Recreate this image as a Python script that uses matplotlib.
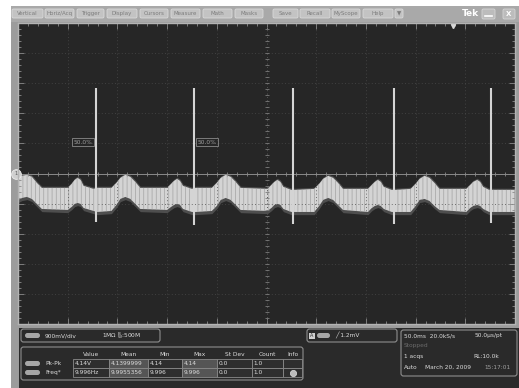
import numpy as np
import matplotlib
matplotlib.use("Agg")
import matplotlib.pyplot as plt
from matplotlib.patches import Rectangle, FancyBboxPatch

# trace envelope (time in ms, volts)
t_ms = [0, 4, 9, 14, 19, 24, 50, 54, 57, 60, 63, 66, 76, 80,
        94, 99, 103, 108, 113, 118, 123, 150, 154, 157, 160, 163, 166, 175, 179,
        195, 200, 204, 209, 214, 219, 224, 251, 255, 258, 261, 264, 267, 275, 279,
        298, 303, 307, 312, 317, 322, 327, 352, 356, 359, 362, 365, 368, 376, 380,
        395, 400, 404, 409, 414, 419, 424, 451, 455, 458, 462, 465, 468, 474, 478, 500]
v_top = [-0.10, -0.07, -0.04, -0.10, -0.28, -0.43, -0.43, -0.31, -0.19, -0.13, -0.19, -0.37, -0.46, -0.43,
         -0.43, -0.28, -0.13, -0.04, -0.10, -0.25, -0.43, -0.43, -0.31, -0.22, -0.16, -0.22, -0.37, -0.46, -0.43,
         -0.43, -0.28, -0.13, -0.04, -0.10, -0.25, -0.43, -0.46, -0.34, -0.25, -0.19, -0.25, -0.40, -0.49, -0.49,
         -0.46, -0.31, -0.16, -0.07, -0.13, -0.28, -0.46, -0.46, -0.34, -0.25, -0.19, -0.25, -0.40, -0.49, -0.49,
         -0.46, -0.31, -0.16, -0.07, -0.13, -0.28, -0.46, -0.46, -0.34, -0.25, -0.19, -0.25, -0.40, -0.49, -0.49, -0.49]
v_bot = [-0.79, -0.73, -0.70, -0.76, -0.91, -1.06, -1.09, -1.00, -0.91, -0.88, -0.91, -1.03, -1.12, -1.15,
         -1.12, -0.94, -0.76, -0.70, -0.76, -0.91, -1.06, -1.09, -1.00, -0.94, -0.91, -0.94, -1.06, -1.15, -1.15,
         -1.12, -0.97, -0.79, -0.73, -0.79, -0.94, -1.09, -1.12, -1.03, -0.94, -0.91, -0.94, -1.06, -1.15, -1.15,
         -1.15, -0.97, -0.79, -0.73, -0.79, -0.94, -1.09, -1.15, -1.03, -0.97, -0.94, -0.97, -1.06, -1.15, -1.15,
         -1.15, -0.97, -0.79, -0.76, -0.82, -0.97, -1.09, -1.15, -1.03, -0.97, -0.94, -0.97, -1.06, -1.15, -1.15, -1.15]

spike_t = [78, 177, 277, 378, 476]
spike_hi = [2.56, 2.56, 2.56, 2.56, 2.56]
spike_lo = [-1.45, -1.54, -1.51, -1.51, -1.48]

ref_t = [65, 190]
ref_v = [0.93, 0.93]

menu_items = ["Vertical", "Horiz/Acq", "Trigger", "Display", "Cursors", "Measure", "Math",
              "Masks", "Save", "Recall", "MyScope", "Help", "\u25bc"]
menu_x = [(12, 43), (45, 74), (77, 104), (107, 137), (140, 168), (171, 200), (203, 232),
          (235, 263), (273, 298), (300, 330), (332, 360), (363, 393), (395, 403)]

meas_cols = ["Value", "Mean", "Min", "Max", "St Dev", "Count", "Info"]
meas_rows = ["Pk-Pk", "Freq*"]
meas_vals = [["4.14V", "4.1399999", "4.14", "4.14", "0.0", "1.0"],
             ["9.996Hz", "9.9955356", "9.996", "9.996", "0.0", "1.0"]]

plt.rcParams["hatch.linewidth"] = 0.5

fig = plt.figure(figsize=(5.19, 3.88), dpi=100)
fig.patch.set_facecolor("white")

bg = fig.add_axes([0, 0, 1, 1])
bg.set_xlim(0, 519)
bg.set_ylim(388, 0)
bg.axis("off")

# window frame, menu bar, bottom panel
bg.add_patch(Rectangle((11, 6), 508, 382, facecolor="#9c9c9c", edgecolor="none"))
bg.add_patch(Rectangle((11, 6), 508, 16, facecolor="#a9a9a9", edgecolor="none"))
bg.add_patch(Rectangle((19, 328), 500, 60, facecolor="#2a2a2a", edgecolor="none"))

for lab, (x0, x1) in zip(menu_items, menu_x):
    bg.add_patch(FancyBboxPatch((x0, 9), x1 - x0, 9, boxstyle="round,pad=0,rounding_size=1.5",
                                facecolor="#c3c3c3", edgecolor="#dadada", lw=0.6))
    bg.text((x0 + x1) / 2, 13.8, lab, fontsize=4, color="#7c7c7c", ha="center", va="center")

bg.text(470, 13.5, "Tek", fontsize=6.5, color="white", fontweight="bold", ha="center", va="center")
bg.add_patch(FancyBboxPatch((482, 9), 13, 10, boxstyle="round,pad=0,rounding_size=1.5",
                            facecolor="#bcbcbc", edgecolor="#d6d6d6", lw=0.6))
bg.plot([485, 492], [16, 16], color="white", lw=1.2)
bg.add_patch(FancyBboxPatch((503, 9), 12, 10, boxstyle="round,pad=0,rounding_size=1.5",
                            facecolor="#bcbcbc", edgecolor="#d6d6d6", lw=0.6))
bg.text(509, 14, "X", fontsize=5, color="white", ha="center", va="center", fontweight="bold")


def box(x0, y0, x1, y1):
    bg.add_patch(FancyBboxPatch((x0, y0), x1 - x0, y1 - y0, boxstyle="round,pad=0,rounding_size=2.5",
                                facecolor="#2a2a2a", edgecolor="#8e8e8e", lw=0.8))


def pill(x, y, w=15):
    bg.add_patch(FancyBboxPatch((x, y - 2.5), w, 5, boxstyle="round,pad=0,rounding_size=2.5",
                                facecolor="#a6a6a6", edgecolor="none"))


txt = dict(fontsize=4.2, color="#dcdcdc", va="center")

# channel box
box(21, 329, 160, 342)
pill(25, 335.5)
bg.text(45, 335.5, "900mV/div", **txt)
bg.text(102, 335.5, "1M\u03a9 $^{\\rm B}_{\\rm W}$:500M", **txt)

# measurement table
box(21, 347, 303, 380)
col_edges = [73, 109, 148, 182, 217, 252, 283, 302]
row_edges = [359, 368, 377]
for i, c in enumerate(meas_cols):
    bg.text((col_edges[i] + col_edges[i + 1]) / 2, 354, c, ha="center", fontsize=4.2, color="#dcdcdc", va="center")
for r, name in enumerate(meas_rows):
    yc = (row_edges[r] + row_edges[r + 1]) / 2
    pill(25, yc)
    bg.text(45, yc, name, **txt)
    for i in range(7):
        fc = "#555555" if i in (1, 3) else "#2e2e2e"
        bg.add_patch(Rectangle((col_edges[i], row_edges[r]), col_edges[i + 1] - col_edges[i],
                               row_edges[r + 1] - row_edges[r], facecolor=fc, edgecolor="#8a8a8a", lw=0.6))
        if i < 6:
            bg.text(col_edges[i] + 1.5, yc, meas_vals[r][i], **txt)
bg.plot([292.5], [372.5], "o", ms=4.5, mfc="#bdbdbd", mec="#e0e0e0", mew=0.5)

# trigger box
box(307, 329, 397, 342)
bg.add_patch(Rectangle((309, 332.5), 6, 6, facecolor="#d0d0d0", edgecolor="none"))
bg.text(312, 335.6, "A", fontsize=3.5, color="#2a2a2a", ha="center", va="center")
pill(317, 335.5, 13)
bg.text(335, 335.5, "\u2571 1.2mV", **txt)

# horizontal / acquisition box
box(401, 330, 517, 376)
bg.text(404, 335.5, "50.0ms  20.0kS/s", **txt)
bg.text(503, 335.5, "50.0\u03bcs/pt", ha="right", **txt)
bg.text(404, 345.5, "Stopped", fontsize=4.2, color="#6a6a6a", va="center")
bg.text(404, 356.5, "1 acqs", **txt)
bg.text(499, 356.5, "RL:10.0k", ha="right", **txt)
bg.text(404, 367.5, "Auto", **txt)
bg.text(425, 367.5, "March 20, 2009", **txt)
bg.text(511, 367.5, "15:17:01", ha="right", fontsize=4.2, color="#a0a0a0", va="center")

# graticule
ax = fig.add_axes([18 / 519, (388 - 324) / 388, 497 / 519, 301 / 388])
ax.set_facecolor("#262626")
ax.set_xlim(0, 500)
ax.set_ylim(-4.5, 4.5)
ax.set_xticks(np.arange(0, 501, 50))
ax.set_yticks(np.arange(-4.5, 4.51, 0.9))
ax.set_xticks(np.arange(0, 501, 10), minor=True)
ax.set_yticks(np.arange(-4.5, 4.51, 0.18), minor=True)
ax.tick_params(which="both", direction="in", top=True, right=True, labelbottom=False, labelleft=False,
               color="#8a8a8a", width=0.6)
ax.tick_params(which="major", length=4)
ax.tick_params(which="minor", length=2)
ax.grid(True, which="major", color="#4a4a4a", lw=0.6, ls=(0, (1, 3)))
for s in ax.spines.values():
    s.set_color("#b4b4b4")
    s.set_linewidth(1.0)
ax.axhline(0, color="#8a8a8a", lw=0.7)
ax.axvline(250, color="#555555", lw=0.6, ls=(0, (1, 3)))
ax.plot(np.arange(0, 501, 10), np.zeros(51), "|", color="#8a8a8a", ms=3, mew=0.6)
ax.plot(np.full(51, 250), np.arange(-4.5, 4.51, 0.18), "_", color="#7c7c7c", ms=3, mew=0.6)

# persistence band: dim halo, streaky body
ax.fill_between(t_ms, np.array(v_top) + 0.05, np.array(v_bot) - 0.08, color="#4e4e4e", lw=0)
ax.fill_between(t_ms, v_top, v_bot, facecolor="#d4d4d4", edgecolor="#a2a2a2", hatch="||||", lw=0)
ax.vlines(spike_t, spike_lo, spike_hi, color="#d4d4d4", lw=1.5)

for t, v in zip(ref_t, ref_v):
    ax.text(t, v, "50.0%", fontsize=4.2, color="#9a9a9a", ha="center", va="center",
            bbox=dict(boxstyle="square,pad=0.25", fc="none", ec="#8a8a8a", lw=0.6))

ax.plot([-2], [0], "o", ms=7, mfc="#cfcfcf", mec="#eeeeee", mew=0.6, clip_on=False)
ax.text(-2, 0, "1", fontsize=3.5, color="#555555", ha="center", va="center", clip_on=False)
ax.plot([438], [4.4], "v", ms=3, color="#d8d8d8", clip_on=False)

fig.savefig("out.png", dpi=100)
